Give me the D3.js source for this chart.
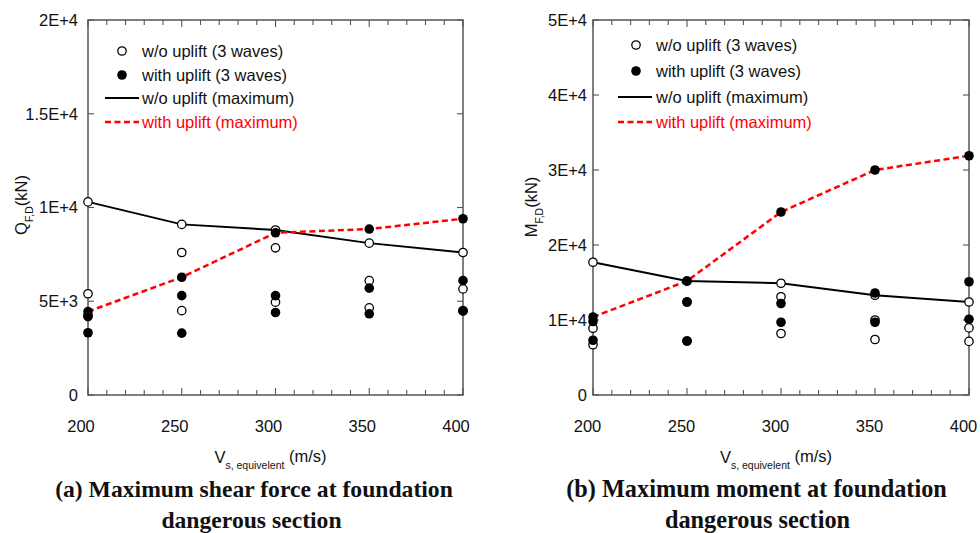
<!DOCTYPE html>
<html><head><meta charset="utf-8">
<script src="https://cdn.jsdelivr.net/npm/d3@7"></script>
<style>body{margin:0;background:#fff}svg{display:block}</style>
</head><body><svg id="c" width="980" height="533"></svg>
<script>
// ---- data ----
const vsEquiv = [200, 250, 300, 350, 400];
const xTicks = [200, 250, 300, 350, 400];
const xMinorTicks = [200,210,220,230,240,250,260,270,280,290,300,310,320,330,340,350,360,370,380,390,400];

// (a) shear force Q_F,D (kN)
const shearTicks = [0, 5000, 10000, 15000, 20000];
const shearTickLabels = ["0", "5E+3", "1E+4", "1.5E+4", "2E+4"];
const shearNoUpliftWaves = [[10300, 5400, 4250], [9100, 7600, 4500], [8800, 7850, 4950], [8100, 6100, 4650], [7600, 5660, 4480]];
const shearUpliftWaves   = [[4450, 4180, 3320], [6280, 5300, 3300], [8650, 5300, 4400], [8850, 5700, 4330], [9400, 6100, 4500]];
const shearNoUpliftMax = [10300, 9100, 8800, 8100, 7600];
const shearUpliftMax   = [4450, 6280, 8650, 8850, 9400];

// (b) moment M_F,D (kN)
const momentTicks = [0, 10000, 20000, 30000, 40000, 50000];
const momentTickLabels = ["0", "1E+4", "2E+4", "3E+4", "4E+4", "5E+4"];
const momentNoUpliftWaves = [[17700, 8900, 6700], [15200, 12400, 7200], [14900, 13100, 8200], [13300, 10000, 7400], [12400, 8950, 7150]];
const momentUpliftWaves   = [[10400, 9800, 7300], [15200, 12400, 7200], [24400, 12200, 9700], [30000, 13600, 9700], [31900, 15100, 10100]];
const momentNoUpliftMax = [17700, 15200, 14900, 13300, 12400];
const momentUpliftMax   = [10400, 15200, 24400, 30000, 31900];

const legendLabels = ["w/o uplift (3 waves)", "with uplift (3 waves)", "w/o uplift (maximum)", "with uplift (maximum)"];

// ---- drawing ----
const svg = d3.select("#c");
const AX = "#555";
const SANS = "'Liberation Sans', Arial, sans-serif";
const SERIF = "'Liberation Serif', 'Times New Roman', serif";

function drawPanel(c) {
  const g = svg.append("g");
  const x = d3.scaleLinear().domain([200, 400]).range([c.x0, c.x1]);
  const y = d3.scaleLinear().domain([0, c.yMax]).range([395, 20]);
  const yb = y(0), yt = y(c.yMax);

  g.selectAll(".bt").data(xMinorTicks).join("line")
    .attr("x1", d => x(d)).attr("x2", d => x(d))
    .attr("y1", yb).attr("y2", d => yb - (d % 50 === 0 ? 7 : 5))
    .attr("stroke", AX).attr("stroke-width", 1.1);
  g.selectAll(".tt").data(xMinorTicks).join("line")
    .attr("x1", d => x(d)).attr("x2", d => x(d))
    .attr("y1", yt).attr("y2", d => yt + (d % 50 === 0 ? 7 : 5))
    .attr("stroke", AX).attr("stroke-width", 1.1);
  g.selectAll(".lt").data(c.yTicks).join("line")
    .attr("x1", c.x0).attr("x2", c.x0 + 6)
    .attr("y1", d => y(d)).attr("y2", d => y(d))
    .attr("stroke", AX).attr("stroke-width", 1.1);
  g.selectAll(".rt").data(c.yTicks).join("line")
    .attr("x1", c.x1 - 6).attr("x2", c.x1)
    .attr("y1", d => y(d)).attr("y2", d => y(d))
    .attr("stroke", AX).attr("stroke-width", 1.1);
  g.append("rect").attr("x", c.x0).attr("y", yt)
    .attr("width", c.x1 - c.x0).attr("height", yb - yt)
    .attr("fill", "none").attr("stroke", AX).attr("stroke-width", 1.5);

  g.selectAll(".yl").data(c.yTicks).join("text")
    .attr("x", c.x0 - c.yLabGap).attr("y", d => y(d)).attr("dy", "0.36em")
    .attr("text-anchor", "end").attr("font-family", SANS).attr("font-size", 16.5)
    .attr("fill", "#111").text((d, i) => c.yTickLabels[i]);
  g.selectAll(".xl").data(xTicks).join("text")
    .attr("x", d => x(d) - c.xLabShift).attr("y", 432)
    .attr("text-anchor", "middle").attr("font-family", SANS).attr("font-size", 16.5)
    .attr("fill", "#111").text(d => d);

  const xt = g.append("text").attr("x", (c.x0 + c.x1) / 2 - 5).attr("y", 463)
    .attr("text-anchor", "middle").attr("font-family", SANS).attr("font-size", 16.5).attr("fill", "#111");
  xt.append("tspan").text("V");
  xt.append("tspan").attr("font-size", 10.5).attr("dy", 6).text("s, equivelent");
  xt.append("tspan").attr("dy", -7).text("\u00a0(m/s)");

  const yt2 = g.append("text").attr("transform", `translate(${c.yTitleX},${c.yTitleY}) rotate(-90)`)
    .attr("text-anchor", "middle").attr("font-family", SANS).attr("font-size", 16.5).attr("fill", "#111");
  yt2.append("tspan").text(c.yMain);
  yt2.append("tspan").attr("font-size", 10.5).attr("dy", 6).text("F,D");
  yt2.append("tspan").attr("dy", -6).text("(kN)");

  const line = vals => d3.line().x((d, i) => x(vsEquiv[i])).y(d => y(d))(vals);
  g.append("path").attr("d", line(c.noMax)).attr("fill", "none")
    .attr("stroke", "#000").attr("stroke-width", 2);
  g.append("path").attr("d", line(c.upMax)).attr("fill", "none")
    .attr("stroke", "#ff0000").attr("stroke-width", 2.5).attr("stroke-dasharray", "6,3.5");

  const flat = arr => arr.flatMap((vals, i) => vals.map(v => ({ v: vsEquiv[i], val: v })));
  g.selectAll(".op").data(flat(c.noWaves)).join("circle")
    .attr("cx", d => x(d.v)).attr("cy", d => y(d.val)).attr("r", 4.2)
    .attr("fill", "#fff").attr("stroke", "#000").attr("stroke-width", 1.3);
  g.selectAll(".fp").data(flat(c.upWaves)).join("circle")
    .attr("cx", d => x(d.v)).attr("cy", d => y(d.val)).attr("r", 4.8)
    .attr("fill", "#000");

  const L = c.legend;
  g.append("circle").attr("cx", L.mx).attr("cy", L.rows[0]).attr("r", 4.2)
    .attr("fill", "#fff").attr("stroke", "#000").attr("stroke-width", 1.3);
  g.append("circle").attr("cx", L.mx).attr("cy", L.rows[1]).attr("r", 4.8).attr("fill", "#000");
  g.append("line").attr("x1", L.l0).attr("x2", L.l1).attr("y1", L.rows[2]).attr("y2", L.rows[2])
    .attr("stroke", "#000").attr("stroke-width", 2);
  g.append("line").attr("x1", L.l0).attr("x2", L.l1).attr("y1", L.rows[3]).attr("y2", L.rows[3])
    .attr("stroke", "#ff0000").attr("stroke-width", 2.5).attr("stroke-dasharray", "6,3.5");
  g.selectAll(".lg").data(legendLabels).join("text")
    .attr("x", L.tx).attr("y", (d, i) => L.rows[i]).attr("dy", "0.36em")
    .attr("font-family", SANS).attr("font-size", 16.5)
    .attr("fill", (d, i) => i === 3 ? "#ff0000" : "#111").text(d => d);

  // caption: size fitted on first line, same size for both lines
  const caps = c.caption.map((t, i) => g.append("text").attr("x", c.capX[i]).attr("y", [497, 528][i])
    .attr("text-anchor", "middle").attr("font-family", SERIF).attr("font-weight", "bold")
    .attr("font-size", 21.5).attr("fill", "#111").text(t));
  const w = caps[0].node().getComputedTextLength();
  const fs = 21.5 * Math.max(0.9, Math.min(1.15, c.capW / w));
  caps.forEach(t => t.attr("font-size", fs));
}

drawPanel({
  x0: 88, x1: 463, yMax: 20000, yTicks: shearTicks, yTickLabels: shearTickLabels,
  yLabGap: 10, xLabShift: 7, yTitleX: 27, yTitleY: 205, yMain: "Q",
  noWaves: shearNoUpliftWaves, upWaves: shearUpliftWaves,
  noMax: shearNoUpliftMax, upMax: shearUpliftMax,
  legend: { mx: 122, l0: 105, l1: 139, tx: 142, rows: [51, 75, 98, 122] },
  caption: ["(a) Maximum shear force at foundation", "dangerous section"],
  capX: [254, 251.5], capW: 398
});
drawPanel({
  x0: 593, x1: 969, yMax: 50000, yTicks: momentTicks, yTickLabels: momentTickLabels,
  yLabGap: 6, xLabShift: 5.5, yTitleX: 537, yTitleY: 207, yMain: "M",
  noWaves: momentNoUpliftWaves, upWaves: momentUpliftWaves,
  noMax: momentNoUpliftMax, upMax: momentUpliftMax,
  legend: { mx: 636, l0: 618, l1: 652, tx: 656, rows: [45, 71, 97, 122] },
  caption: ["(b) Maximum moment at foundation", "dangerous section"],
  capX: [756.5, 757.5], capW: 381
});
</script></body></html>
